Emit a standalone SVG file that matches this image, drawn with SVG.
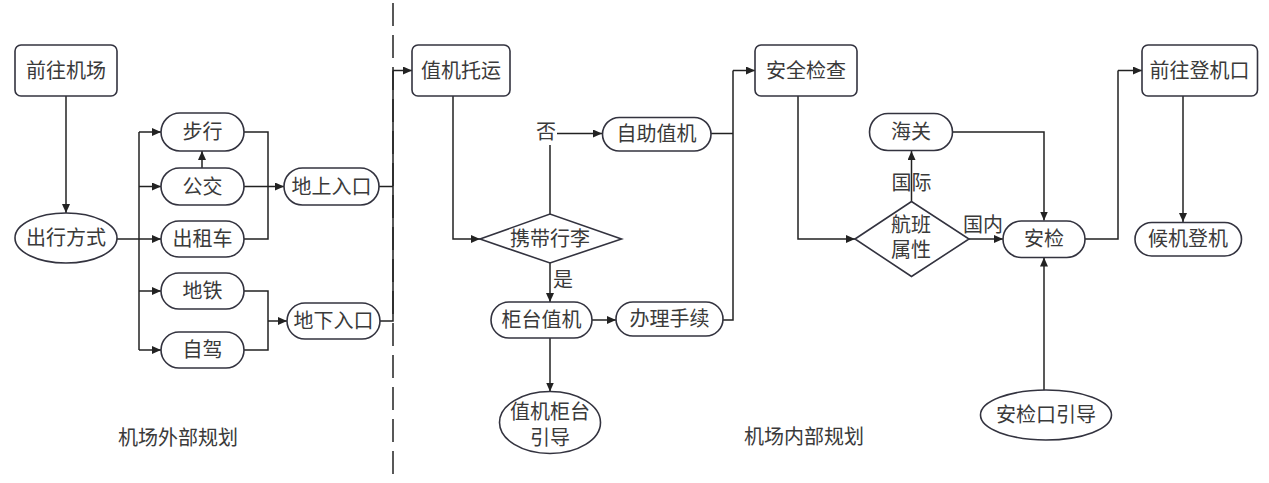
<svg xmlns="http://www.w3.org/2000/svg" width="1269" height="483" viewBox="0 0 1269 483">
<defs>
<marker id="arr" markerWidth="9" markerHeight="8" refX="9" refY="4" orient="auto" markerUnits="userSpaceOnUse">
<path d="M0,0 L9,4 L0,8 Z" fill="#222"/>
</marker>
<style>
.n{fill:#fff;stroke:#33333f;stroke-width:1.6}
.t{font-family:"Liberation Serif","Noto Sans CJK SC",serif;font-size:20px;fill:#3a3a3a;text-anchor:middle;dominant-baseline:central}
.c{fill:none;stroke:#222;stroke-width:1.5}
.a{marker-end:url(#arr)}
</style>
</defs>
<rect width="1269" height="483" fill="#fff"/>
<line x1="393" y1="3" x2="393" y2="483" stroke="#222" stroke-width="1.5" stroke-dasharray="23,9"/>
<g id="connectors">
<path class="c a" d="M66,96 V213"/>
<path class="c a" d="M117,239 H161"/>
<path class="c" d="M139,132 V350"/>
<path class="c a" d="M139,132 H161"/>
<path class="c a" d="M139,186.5 H161"/>
<path class="c a" d="M139,291 H161"/>
<path class="c a" d="M139,350 H161"/>
<path class="c a" d="M202,168 V151"/>
<path class="c" d="M244,132 H268 V239 H244"/>
<path class="c a" d="M244,186.5 H284"/>
<path class="c" d="M244,291 H268 V350 H244"/>
<path class="c a" d="M268,321 H287"/>
<path class="c" d="M379,186.5 H393"/>
<path class="c" d="M380,321 H393 V70.5"/>
<path class="c a" d="M393,70.5 H412"/>
<path class="c a" d="M453,96 V239 H480"/>
<path class="c" d="M550,214 V145"/>
<path class="c a" d="M557,133.5 H602"/>
<path class="c a" d="M550,263 V302"/>
<path class="c a" d="M592,320 H616"/>
<path class="c a" d="M550,338 V391.5"/>
<path class="c" d="M711,133.5 H733 M723,320 H733 V70.5"/>
<path class="c a" d="M733,70.5 H755"/>
<path class="c a" d="M798,96 V239 H855"/>
<path class="c a" d="M911.5,201.5 V151"/>
<path class="c a" d="M952,132 H1044 V220.5"/>
<path class="c a" d="M969,239 H1003"/>
<path class="c" d="M1085,239 H1118 V70.5"/>
<path class="c a" d="M1118,70.5 H1142"/>
<path class="c a" d="M1183,96 V222"/>
<path class="c a" d="M1044,390 V257.5"/>
</g>
<g id="n-qianwangjichang"><rect class="n" x="15" y="45" width="102" height="51" rx="6"/><text class="t" x="66" y="70.5">前往机场</text></g>
<g id="n-chuxingfangshi"><ellipse class="n" cx="66" cy="238" rx="51" ry="25"/><text class="t" x="66" y="238">出行方式</text></g>
<g id="n-buxing"><rect class="n" x="161" y="113" width="83" height="38" rx="19"/><text class="t" x="202.5" y="132">步行</text></g>
<g id="n-gongjiao"><rect class="n" x="161" y="168" width="83" height="37" rx="18.5"/><text class="t" x="202.5" y="186.5">公交</text></g>
<g id="n-chuzuche"><rect class="n" x="161" y="221" width="83" height="36" rx="18"/><text class="t" x="202.5" y="239">出租车</text></g>
<g id="n-ditie"><rect class="n" x="161" y="273" width="83" height="36" rx="18"/><text class="t" x="202.5" y="291">地铁</text></g>
<g id="n-zijia"><rect class="n" x="161" y="332" width="83" height="36" rx="18"/><text class="t" x="202.5" y="350">自驾</text></g>
<g id="n-dishangrukou"><rect class="n" x="284" y="168" width="95" height="37" rx="18.5"/><text class="t" x="331.5" y="186.5">地上入口</text></g>
<g id="n-dixiarukou"><rect class="n" x="287" y="303" width="93" height="36" rx="18"/><text class="t" x="333.5" y="321">地下入口</text></g>
<g id="n-zhijituoyun"><rect class="n" x="412" y="45" width="98" height="51" rx="6"/><text class="t" x="461" y="70.5">值机托运</text></g>
<g id="n-xiedaixingli"><polygon class="n" points="480,239 550,214 621.5,239 550,263"/><text class="t" x="550" y="239">携带行李</text></g>
<g id="n-zizhuzhiji"><rect class="n" x="602.5" y="117.5" width="108.5" height="33.5" rx="16.75"/><text class="t" x="656.5" y="134">自助值机</text></g>
<g id="n-guitaizhiji"><rect class="n" x="491" y="302" width="101" height="36" rx="18"/><text class="t" x="541.5" y="320">柜台值机</text></g>
<g id="n-banlishouxu"><rect class="n" x="616" y="302" width="107" height="34" rx="17"/><text class="t" x="669.5" y="319">办理手续</text></g>
<g id="n-zhijiguitaiyindao"><ellipse class="n" cx="550" cy="422.5" rx="50.5" ry="31"/><text class="t" x="550" y="412">值机柜台</text><text class="t" x="550" y="438">引导</text></g>
<g id="n-anquanjiancha"><rect class="n" x="755" y="45" width="102" height="51" rx="6"/><text class="t" x="806" y="70.5">安全检查</text></g>
<g id="n-haiguan"><rect class="n" x="869.5" y="113.5" width="83" height="37" rx="18.5"/><text class="t" x="911" y="132">海关</text></g>
<g id="n-hangbanshuxing"><polygon class="n" points="855,239 911.5,201.5 969,239 911.5,276.5"/><text class="t" x="911" y="225">航班</text><text class="t" x="911" y="250">属性</text></g>
<g id="n-anjian"><rect class="n" x="1003" y="221" width="82" height="36.5" rx="18.25"/><text class="t" x="1044" y="239">安检</text></g>
<g id="n-anjiankouyindao"><ellipse class="n" cx="1046" cy="415" rx="65.5" ry="25"/><text class="t" x="1046" y="415">安检口引导</text></g>
<g id="n-qianwangdengjikou"><rect class="n" x="1142" y="45" width="115.5" height="51" rx="6"/><text class="t" x="1199.5" y="70.5">前往登机口</text></g>
<g id="n-houjidengji"><rect class="n" x="1135" y="222.5" width="106.5" height="33.5" rx="16.75"/><text class="t" x="1188" y="239">候机登机</text></g>
<g id="labels">
<text class="t" x="546" y="132">否</text>
<text class="t" x="563" y="280">是</text>
<text class="t" x="911.5" y="183">国际</text>
<text class="t" x="983" y="225">国内</text>
<text class="t" x="178" y="438">机场外部规划</text>
<text class="t" x="804" y="437">机场内部规划</text>
</g>
</svg>
